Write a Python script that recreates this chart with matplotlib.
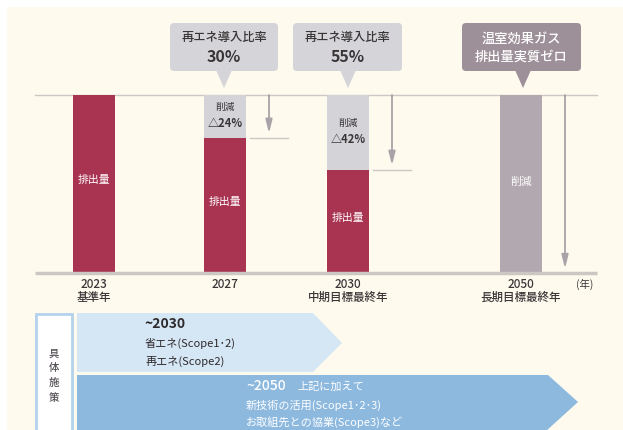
import matplotlib
matplotlib.use("Agg")
import matplotlib.pyplot as plt
from matplotlib.patches import Rectangle, Polygon, FancyBboxPatch

plt.rcParams['font.family'] = ['Noto Sans CJK JP', 'DejaVu Sans']

# ---------------- data ----------------
years = ["2023", "2027", "2030", "2050"]
year_notes = ["基準年", "", "中期目標最終年", "長期目標最終年"]
emission = [100, 76, 58, 0]
reduction = [0, 24, 42, 100]
reduction_labels = ["", "△24%", "△42%", ""]
emission_label = "排出量"
reduction_label = "削減"
renewable_title = "再エネ導入比率"
renewable_ratio = ["30%", "55%"]
goal_2050 = ["温室効果ガス", "排出量実質ゼロ"]
measures_2030 = ["~2030", "省エネ(Scope1･2)", "再エネ(Scope2)"]
measures_2050_head = "~2050"
measures_2050 = ["上記に加えて", "新技術の活用(Scope1･2･3)", "お取組先との協業(Scope3)など"]
side_label = "具体施策"
year_unit = "(年)"

# ---------------- layout / style ----------------
W, H = 623, 430
CREAM = "#FEFAEE"
CRIMSON = "#A93452"
LIGHTGRAY = "#D4D3D8"
MAUVE = "#B2A8AF"
CALLOUT = "#D5D4D8"
CALLOUT_DARK = "#9E9098"
ARROW = "#A7A3A8"
LINE = "#CBC7C2"
TEXT = "#3A3638"
LIGHTBLUE = "#D5E6F4"
MIDBLUE = "#8DB9DF"
BORDERBLUE = "#B3D2EC"

x_pos = [94, 225, 348, 521]
bar_w = 42
base_px, top_px = 273, 95
scale = (base_px - top_px) / 100.0

fig = plt.figure(figsize=(W / 100, H / 100), dpi=100, facecolor="white")
px = fig.add_axes([0, 0, 1, 1])
px.set_xlim(0, W)
px.set_ylim(H, 0)
px.axis("off")

ax = fig.add_axes([0, 0, 1, 1], facecolor="none")
ax.set_xlim(0, W)
ax.set_ylim((base_px - H) / scale, base_px / scale)
ax.axis("off")

# background panel
px.add_patch(Rectangle((7, 7), W - 7, H - 7, facecolor=CREAM, edgecolor="none", zorder=0))

# reference lines
ax.plot([35, 597], [100, 100], color=LINE, lw=1.0, zorder=1)
ax.plot([35, 597], [0, 0], color=LINE, lw=2.5, zorder=4, solid_capstyle="butt")

# bars
red_colors = [LIGHTGRAY, LIGHTGRAY, LIGHTGRAY, MAUVE]
ax.bar(x_pos, emission, width=bar_w, color=CRIMSON, zorder=2)
ax.bar(x_pos, reduction, bottom=emission, width=bar_w, color=red_colors, zorder=2)

for i, (x, e, r) in enumerate(zip(x_pos, emission, reduction)):
    if e > 0:
        ax.text(x, e / 2 + 2, emission_label, color="white", ha="center", va="center",
                fontsize=7.8, zorder=3)
    if r > 0 and reduction_labels[i]:
        mid = e + r / 2
        ax.text(x, mid + 5, reduction_label, color=TEXT, ha="center", va="center",
                fontsize=7, zorder=3)
        ax.text(x, mid - 4, reduction_labels[i], color=TEXT, ha="center", va="center",
                fontsize=8, fontweight="bold", zorder=3)
    elif r > 0:
        ax.text(x, e + r / 2 + 1, reduction_label, color="white", ha="center", va="center",
                fontsize=7.8, zorder=3)
    # reduction arrows
    if r > 0:
        ax.annotate("", xy=(x + 44, e + 2.5), xytext=(x + 44, 100),
                    arrowprops=dict(arrowstyle="-|>,head_width=0.2,head_length=0.8",
                                    color=ARROW, lw=1.3, mutation_scale=10,
                                    shrinkA=0, shrinkB=0), zorder=3)
        if e > 0:
            ax.plot([x + 25, x + 63], [e, e], color=LINE, lw=1.0, zorder=1)

# year labels
for x, yr, note in zip(x_pos, years, year_notes):
    px.text(x, 284, yr, ha="center", va="center", fontsize=8.5, color=TEXT,
            fontweight="medium")
    if note:
        px.text(x, 297, note, ha="center", va="center", fontsize=8.3, color=TEXT,
                fontweight="medium")
px.text(585, 284, year_unit, ha="center", va="center", fontsize=7.5, color=TEXT)

# callouts
def callout(x0, x1, cx, color, lines, colors, sizes, weights, ys):
    box = FancyBboxPatch((x0, 23), x1 - x0, 48,
                         boxstyle="round,pad=0,rounding_size=4",
                         facecolor=color, edgecolor="none", zorder=2)
    px.add_patch(box)
    px.add_patch(Polygon([[cx - 8, 70], [cx + 8, 70], [cx, 88]], closed=True,
                         facecolor=color, edgecolor="none", zorder=2))
    for t, c, s, w, y in zip(lines, colors, sizes, weights, ys):
        px.text((x0 + x1) / 2, y, t, ha="center", va="center", color=c,
                fontsize=s, fontweight=w, zorder=3)

callout(170, 278, 224, CALLOUT, [renewable_title, renewable_ratio[0]],
        [TEXT, TEXT], [8.8, 11.5], ["medium", "bold"], [38, 57])
callout(293, 402, 348, CALLOUT, [renewable_title, renewable_ratio[1]],
        [TEXT, TEXT], [8.8, 11.5], ["medium", "bold"], [38, 57])
callout(462, 581, 523, CALLOUT_DARK, goal_2050,
        ["white", "white"], [9.5, 9.5], ["medium", "medium"], [39, 57])

# bottom: side label box
px.add_patch(Rectangle((36, 314), 36, 130, facecolor="white", edgecolor=BORDERBLUE,
                       lw=2, zorder=2))
for k, ch in enumerate(side_label):
    px.text(54, 354 + k * 14.5, ch, ha="center", va="center", fontsize=7.5,
            color="#555055", fontweight="medium", zorder=3)

# measure arrows
px.add_patch(Polygon([[77, 313], [313, 313], [342, 343], [313, 372], [77, 372]],
                     closed=True, facecolor=LIGHTBLUE, edgecolor="none", zorder=2))
px.add_patch(Polygon([[77, 375], [548, 375], [578, 402], [535, 441], [77, 441]],
                     closed=True, facecolor=MIDBLUE, edgecolor="none", zorder=2))

ys1 = [324, 343, 361]
for k, (t, y) in enumerate(zip(measures_2030, ys1)):
    px.text(145, y, t, ha="left", va="center", color="#2E2A2C",
            fontsize=10 if k == 0 else 8, fontweight="bold" if k == 0 else "normal",
            zorder=3)
px.text(246, 386, measures_2050_head, ha="left", va="center", color="white",
        fontsize=10, fontweight="medium", zorder=3)
px.text(297, 387, measures_2050[0], ha="left", va="center", color="white",
        fontsize=8, zorder=3)
for t, y in zip(measures_2050[1:], [405, 422]):
    px.text(246, y, t, ha="left", va="center", color="white", fontsize=8, zorder=3)

fig.savefig("out.png", dpi=100, facecolor="white")
